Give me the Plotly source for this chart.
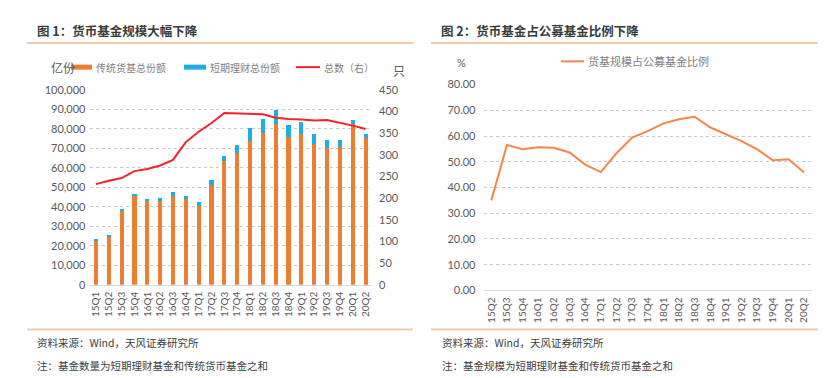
import plotly.graph_objects as go

W, H = 830, 378

# ---------------- data ----------------
quarters_left = ["15Q1", "15Q2", "15Q3", "15Q4", "16Q1", "16Q2", "16Q3", "16Q4",
                 "17Q1", "17Q2", "17Q3", "17Q4", "18Q1", "18Q2", "18Q3", "18Q4",
                 "19Q1", "19Q2", "19Q3", "19Q4", "20Q1", "20Q2"]
traditional_shares = [22600, 24900, 38000, 45700, 42700, 42900, 45400, 43900,
                      40600, 51300, 63400, 67700, 73600, 77600, 82500, 75900,
                      77200, 72300, 70300, 70600, 82200, 75200]
short_term_shares = [800, 700, 800, 1000, 1200, 1500, 2000, 1500,
                     1800, 2300, 2600, 3900, 6600, 7100, 7100, 5900,
                     6000, 5100, 4100, 3500, 2300, 2000]
fund_count = [232, 240, 246, 262, 267, 275, 288, 329, 353, 373, 396, 395,
              394, 393, 385, 382, 381, 379, 380, 374, 367, 359]

quarters_right = quarters_left[1:]
mmf_ratio = [35.0, 56.5, 54.9, 55.6, 55.4, 53.6, 48.9, 46.0, 53.3, 59.4, 61.9,
             64.9, 66.5, 67.5, 63.3, 60.5, 58.0, 54.8, 50.6, 51.0, 45.8]

left_ticks = list(range(0, 100001, 10000))
right_count_ticks = list(range(0, 451, 50))
ratio_ticks = list(range(0, 81, 10))

# ---------------- helpers ----------------
def fx(px):
    return px / W

def fy(py):
    return 1 - py / H

CJK = "Noto Sans CJK SC"
NUM = "Lato"
GRAY = "#595959"
ORANGE = "#ED7D31"
BLUE = "#1CAEE6"
RED = "#F5222D"
LINE_ORANGE = "#F0884A"
RULE = "#F8C9A6"

fig = go.Figure()

fig.add_trace(go.Bar(x=quarters_left, y=traditional_shares, name="传统货基总份额",
                     marker=dict(color=ORANGE, line=dict(width=0)),
                     xaxis="x", yaxis="y"))
fig.add_trace(go.Bar(x=quarters_left, y=short_term_shares, name="短期理财总份额",
                     marker=dict(color=BLUE, line=dict(width=0)),
                     xaxis="x", yaxis="y"))
fig.add_trace(go.Scatter(x=quarters_left, y=fund_count, name="总数（右）",
                         mode="lines", line=dict(color=RED, width=2),
                         xaxis="x", yaxis="y2"))
fig.add_trace(go.Scatter(x=quarters_right, y=mmf_ratio, name="货基规模占公募基金比例",
                         mode="lines", line=dict(color=LINE_ORANGE, width=2),
                         xaxis="x2", yaxis="y3"))

tickfont = dict(family=NUM, size=11, color=GRAY)
xtickfont = dict(family=NUM, size=10, color=GRAY)

fig.update_layout(
    width=W, height=H,
    margin=dict(l=0, r=0, t=0, b=0),
    paper_bgcolor="white", plot_bgcolor="white",
    showlegend=False,
    barmode="stack", bargap=0.68,
    xaxis=dict(domain=[fx(81.5), fx(364)], type="category",
               range=[-0.5, len(quarters_left) - 0.5],
               tickmode="array", tickvals=quarters_left, ticktext=quarters_left,
               tickangle=-90, tickfont=xtickfont, showgrid=False,
               showline=True, linecolor="#d9d9d9", linewidth=1,
               ticks="", anchor="y", ticklabelstandoff=2),
    yaxis=dict(domain=[fy(279.3), fy(77.3)], range=[0, 100000],
               tickvals=left_ticks, tickformat=",d", tickfont=tickfont,
               showgrid=True, gridcolor="#c8c8c8", griddash="dot", gridwidth=1,
               zeroline=False, showline=False, anchor="x", ticklabelstandoff=3),
    yaxis2=dict(range=[0, 450], tickvals=right_count_ticks, tickfont=tickfont,
                overlaying="y", side="right", anchor="x", showgrid=False,
                zeroline=False, showline=False, ticklabelstandoff=6),
    xaxis2=dict(domain=[fx(475.5), fx(804)], type="category",
                range=[-0.5, len(quarters_right) - 0.5],
                tickmode="array", tickvals=quarters_right, ticktext=quarters_right,
                tickangle=-90, tickfont=xtickfont, showgrid=False,
                showline=True, linecolor="#d9d9d9", linewidth=1,
                ticks="", anchor="y3", ticklabelstandoff=2),
    yaxis3=dict(domain=[fy(285.3), fy(72)], range=[0, 80],
                tickvals=ratio_ticks, tickformat=".2f", tickfont=tickfont,
                showgrid=True, gridcolor="#c8c8c8", griddash="dot", gridwidth=1,
                zeroline=False, showline=False, anchor="x2", ticklabelstandoff=7),
)

shapes = []
# title underlines and footer rules
for x0, x1, y in [(19, 405, 29), (423, 810, 29), (19, 405, 325.7), (423, 810, 325.7)]:
    shapes.append(dict(type="line", xref="paper", yref="paper",
                       x0=fx(x0), x1=fx(x1), y0=fy(y), y1=fy(y),
                       line=dict(color=RULE, width=2)))
# legend swatches
shapes.append(dict(type="line", xref="paper", yref="paper", x0=fx(63), x1=fx(84),
                   y0=fy(54), y1=fy(54), line=dict(color=ORANGE, width=5)))
shapes.append(dict(type="line", xref="paper", yref="paper", x0=fx(176), x1=fx(198),
                   y0=fy(54), y1=fy(54), line=dict(color=BLUE, width=5)))
shapes.append(dict(type="line", xref="paper", yref="paper", x0=fx(288), x1=fx(312),
                   y0=fy(54), y1=fy(54), line=dict(color=RED, width=2)))
shapes.append(dict(type="line", xref="paper", yref="paper", x0=fx(553), x1=fx(576),
                   y0=fy(48), y1=fy(48), line=dict(color=LINE_ORANGE, width=2)))
fig.update_layout(shapes=shapes)

def txt(x, y, s, size, color="#333333", bold=False, family=CJK, anchor="left"):
    fig.add_annotation(x=fx(x), y=fy(y), xref="paper", yref="paper",
                       text=("<b>%s</b>" % s) if bold else s, showarrow=False,
                       xanchor=anchor, yanchor="middle",
                       font=dict(family=family, size=size, color=color))

txt(27, 16.5, "图 1：货币基金规模大幅下降", 12.5, "#3a3a3a", bold=True)
txt(431, 16.5, "图 2：货币基金占公募基金比例下降", 12.5, "#3a3a3a", bold=True)

txt(41, 54, "亿份", 12, GRAY)
txt(86, 54, "传统货基总份额", 10, "#7f7f7f")
txt(200, 54, "短期理财总份额", 10, "#7f7f7f")
txt(314, 54, "总数（右）", 10, "#7f7f7f")
txt(383, 57, "只", 12, GRAY)

txt(447, 49, "%", 11, GRAY, family=NUM)
txt(578, 48, "货基规模占公募基金比例", 11, "#7f7f7f")

txt(27, 339, "资料来源：Wind，天风证券研究所", 10.5, "#404040")
txt(27, 363, "注：基金数量为短期理财基金和传统货币基金之和", 10.5, "#404040")
txt(432, 339, "资料来源：Wind，天风证券研究所", 10.5, "#404040")
txt(432, 363, "注：基金规模为短期理财基金和传统货币基金之和", 10.5, "#404040")

fig.write_html("out.html")
